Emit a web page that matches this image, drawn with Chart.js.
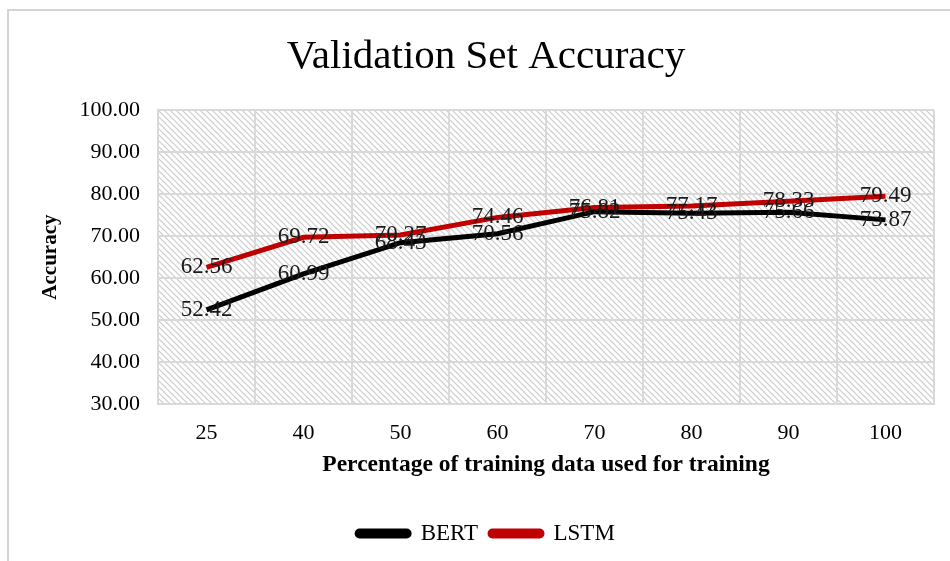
<!DOCTYPE html>
<html>
<head>
<meta charset="utf-8">
<script src="https://cdn.jsdelivr.net/npm/chart.js@4/dist/chart.umd.min.js"></script>
<style>
  body { margin: 0; background: #fff; }
  #wrap { position: relative; width: 950px; height: 561px; }
  #frame { position: absolute; left: 7px; top: 9px; width: 960px; height: 600px;
           border-left: 2px solid #d4d4d4; border-top: 2px solid #d4d4d4; }
  canvas { position: absolute; left: 0; top: 0; }
</style>
</head>
<body>
<div id="wrap">
  <div id="frame"></div>
  <canvas id="accChart" width="950" height="561"></canvas>
</div>
<script>
const categories = ["25", "40", "50", "60", "70", "80", "90", "100"];
const bertAcc = [52.42, 60.99, 68.43, 70.56, 75.82, 75.43, 75.66, 73.87];
const lstmAcc = [62.56, 69.72, 70.27, 74.46, 76.81, 77.17, 78.33, 79.49];
const yTicks = [30, 40, 50, 60, 70, 80, 90, 100];

const serif = "'Liberation Serif', 'DejaVu Serif', serif";

// diagonal hatch for the plot area
function makeHatch() {
  const c = document.createElement("canvas");
  c.width = 6; c.height = 6;
  const g = c.getContext("2d");
  g.strokeStyle = "#cccccc";
  g.lineWidth = 1.2;
  g.beginPath();
  g.moveTo(-1, -1); g.lineTo(7, 7);
  g.moveTo(-1, 5); g.lineTo(1, 7);
  g.moveTo(5, -1); g.lineTo(7, 1);
  g.stroke();
  return g.createPattern(c, "repeat");
}

const hatchBg = {
  id: "hatchBg",
  beforeDraw(chart) {
    const { ctx, chartArea: a } = chart;
    ctx.save();
    ctx.fillStyle = makeHatch();
    ctx.fillRect(a.left, a.top, a.right - a.left, a.bottom - a.top);
    ctx.restore();
  },
};

// value labels centred on each point
const pointLabels = {
  id: "pointLabels",
  afterDatasetsDraw(chart) {
    const ctx = chart.ctx;
    ctx.save();
    ctx.font = "23px " + serif;
    ctx.fillStyle = "#1a1a1a";
    ctx.textAlign = "center";
    ctx.textBaseline = "middle";
    chart.data.datasets.forEach((ds, i) => {
      chart.getDatasetMeta(i).data.forEach((pt, j) => {
        ctx.fillText(ds.data[j].toFixed(2), pt.x, pt.y);
      });
    });
    ctx.restore();
  },
};

new Chart(document.getElementById("accChart"), {
  type: "line",
  data: {
    labels: categories,
    datasets: [
      {
        label: "BERT",
        data: bertAcc,
        borderColor: "#000000",
        backgroundColor: "#000000",
        borderWidth: 5,
        pointRadius: 0,
        tension: 0,
      },
      {
        label: "LSTM",
        data: lstmAcc,
        borderColor: "#c00000",
        backgroundColor: "#c00000",
        borderWidth: 5,
        pointRadius: 0,
        tension: 0,
      },
    ],
  },
  options: {
    responsive: false,
    animation: false,
    layout: { padding: { left: 38, right: 16, top: 0, bottom: 6 } },
    plugins: {
      title: {
        display: true,
        text: "Validation Set Accuracy",
        color: "#000",
        font: { family: serif, size: 41, weight: "normal" },
        padding: { top: 33, bottom: 28 },
      },
      legend: {
        position: "bottom",
        labels: {
          color: "#000",
          boxWidth: 52,
          boxHeight: 5,
          useBorderRadius: true,
          borderRadius: 2.5,
          padding: 12,
          font: { family: serif, size: 23 },
        },
      },
      tooltip: { enabled: false },
    },
    scales: {
      x: {
        offset: true,
        afterFit(scale) {
          scale.width = 776;
          scale.height = 106;
        },
        grid: { offset: true, color: "#d9d9d9", lineWidth: 2, drawTicks: false },
        border: { color: "#d9d9d9", width: 2 },
        ticks: { color: "#000", padding: 16, font: { family: serif, size: 22 } },
        title: {
          display: true,
          text: "Percentage of training data used for training",
          color: "#000",
          font: { family: serif, size: 23.5, weight: "bold" },
          padding: { top: 4, bottom: 31 },
        },
      },
      y: {
        min: 30,
        max: 100,
        afterBuildTicks(scale) {
          scale.ticks = yTicks.map((v) => ({ value: v }));
        },
        afterFit(scale) {
          scale.width = 120;
        },
        grid: { color: "#d9d9d9", lineWidth: 2, drawTicks: false },
        border: { color: "#d9d9d9", width: 2 },
        ticks: {
          color: "#000",
          padding: 18,
          font: { family: serif, size: 22 },
          callback: (v) => Number(v).toFixed(2),
        },
        title: {
          display: true,
          text: "Accuracy",
          color: "#000",
          font: { family: serif, size: 21, weight: "bold" },
          padding: { top: 0, bottom: 4 },
        },
      },
    },
  },
  plugins: [hatchBg, pointLabels],
});
</script>
</body>
</html>
